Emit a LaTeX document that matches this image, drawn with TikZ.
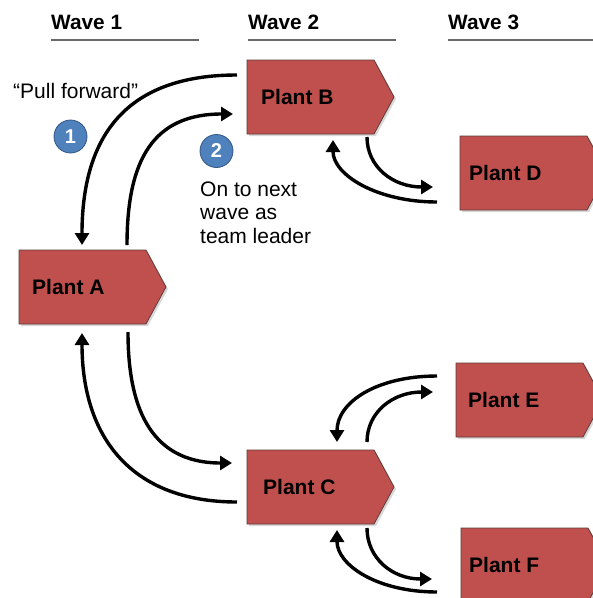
\documentclass[tikz,border=0pt]{standalone}
\usepackage{fontspec}
\setmainfont{Liberation Sans}
\usetikzlibrary{calc,arrows.meta,shadows}
\definecolor{plantred}{RGB}{192,80,77}
\definecolor{plantedge}{RGB}{95,60,58}
\definecolor{numblue}{RGB}{79,129,189}
\definecolor{numedge}{RGB}{50,85,130}
\definecolor{rulegray}{RGB}{105,105,105}
\begin{document}
\begin{tikzpicture}[x=1pt,y=-1pt,
  plantbody/.style={rectangle,minimum width=127pt,minimum height=74pt,inner sep=0pt,outer sep=0pt},
  plantshape/.style={fill=plantred,draw=plantedge,line width=0.8pt,
    drop shadow={shadow xshift=2pt,shadow yshift=-2pt,opacity=0.25,fill=black!60}},
  planttext/.style={anchor=west,inner sep=0pt,font=\fontsize{21}{25}\selectfont\bfseries},
  wavetext/.style={anchor=base west,inner sep=0pt,font=\fontsize{20.8}{24}\selectfont\bfseries},
  waverule/.style={draw=rulegray,line width=2pt},
  plaintext/.style={inner sep=0pt,font=\fontsize{21}{23.5}\selectfont},
  numcircle/.style={circle,fill=numblue,draw=numedge,line width=0.8pt,minimum size=33pt,
    inner sep=0pt,text=white,font=\fontsize{20}{22}\selectfont\bfseries},
  bigarrow/.style={line width=3.4pt,-{Triangle[length=12pt,width=14pt]}},
  smallarrow/.style={line width=3.4pt,-{Triangle[length=12pt,width=14pt]}},
]
\clip (0,0) rectangle (593,598);
\fill[white] (0,0) rectangle (593,598);

% headers
\node[wavetext] (W1) at (51,29.5) {Wave 1};
\node[wavetext] (W2) at (248,29.5) {Wave 2};
\node[wavetext] (W3) at (448,29.5) {Wave 3};
\draw[waverule] ($(W1.base west)+(0,10)$) -- ++(148,0);
\draw[waverule] ($(W2.base west)+(0,10)$) -- ++(148,0);
\draw[waverule] ($(W3.base west)+(0,10)$) -- ++(150,0);

% plants
\node[plantbody] (A) at (82.5,287) {};
\node[plantbody] (B) at (310.5,97) {};
\node[plantbody] (C) at (310.5,487) {};
\node[plantbody] (D) at (523.5,173) {};
\node[plantbody] (E) at (519.5,400) {};
\node[plantbody] (F) at (524.5,565) {};
\foreach \p in {A,B,C,D,E,F}{
  \path[plantshape] (\p.north west) -- (\p.north east) -- ($(\p.east)+(20,0)$)
    -- (\p.south east) -- (\p.south west) -- cycle;
}
\node[planttext] (At) at ($(A.west)+(13,0)$) {Plant A};
\node[planttext] (Bt) at ($(B.west)+(14,0)$) {Plant B};
\node[planttext] (Ct) at ($(C.west)+(16,0)$) {Plant C};
\node[planttext] (Dt) at ($(D.west)+(9,0)$) {Plant D};
\node[planttext] (Et) at ($(E.west)+(12,0)$) {Plant E};
\node[planttext] (Ft) at ($(F.west)+(8,0)$) {Plant F};

% labels
\node[plaintext,anchor=base west] (pull) at (13,98) {“Pull forward”};
\node[plaintext,anchor=north west,align=left] (next) at (200,181.5) {On to next\\wave as\\team leader};
\node[numcircle] (n1) at (70.5,136.5) {1};
\node[numcircle] (n2) at (216.5,151) {2};

% big arrows
\draw[bigarrow] ($(B.north west)+(-10,15)$) .. controls +(-90,0) and +(0,-130) .. ($(A.north west)+(63,-5)$);
\draw[bigarrow] ($(A.north west)+(108,-5)$) .. controls +(0,-85) and +(-80,0) .. ($(B.north west)+(-14,54)$);
\draw[bigarrow] ($(A.south west)+(109,8)$) .. controls +(0,70) and +(-85,0) .. ($(C.north west)+(-15,13)$);
\draw[bigarrow] ($(C.north west)+(-10,52)$) .. controls +(-105,0) and +(0,105) .. ($(A.south west)+(63,9)$);

% small arrows
\draw[smallarrow] ($(D.north west)+(-23,66)$) .. controls +(-60,0) and +(0,35) .. ($(B.south west)+(86,6)$);
\draw[smallarrow] ($(B.south west)+(120,3)$) .. controls +(0,30) and +(-40,0) .. ($(D.north west)+(-27,51)$);
\draw[smallarrow] ($(E.north west)+(-19,13)$) .. controls +(-60,0) and +(0,-40) .. ($(C.north west)+(90,-8)$);
\draw[smallarrow] ($(C.north west)+(120,-8)$) .. controls +(0,-30) and +(-40,0) .. ($(E.north west)+(-23,29)$);
\draw[smallarrow] ($(F.north west)+(-24,64)$) .. controls +(-60,0) and +(0,35) .. ($(C.south west)+(90,6)$);
\draw[smallarrow] ($(C.south west)+(120,4)$) .. controls +(0,30) and +(-40,0) .. ($(F.north west)+(-29,51)$);
\end{tikzpicture}
\end{document}
